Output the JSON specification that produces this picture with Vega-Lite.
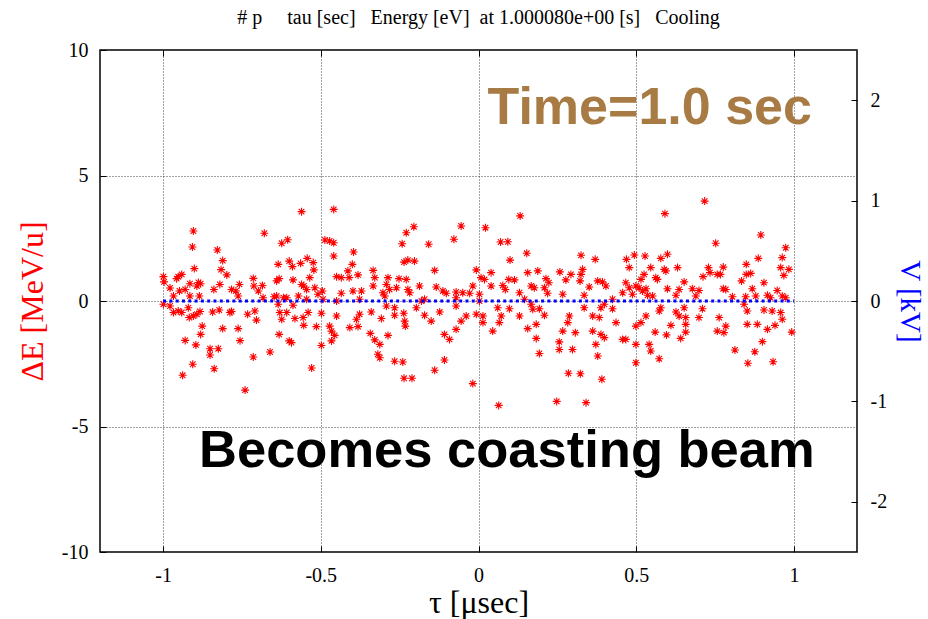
{
"$schema": "https://vega.github.io/schema/vega-lite/v6.json",
"width": 757, "height": 502,
"autosize": {"type": "none"},
"padding": {"left": 100, "top": 50, "right": 71, "bottom": 67},
"background": "white",
"view": {"stroke": "black", "strokeWidth": 1.5},
"title": {"text": "#\u00a0p\u00a0\u00a0\u00a0\u00a0\u00a0tau [sec]\u00a0\u00a0\u00a0Energy [eV]\u00a0\u00a0at 1.000080e+00 [s]\u00a0\u00a0\u00a0Cooling", "font": "Liberation Serif", "fontSize": 20, "fontWeight": "normal", "color": "black", "offset": 12, "anchor": "middle", "frame": "group"},
"config": {"axis": {"labelFont": "Liberation Serif", "labelFontSize": 20, "labelColor": "black", "titleFont": "Liberation Serif", "titleFontSize": 32, "titleFontWeight": "normal", "domain": false, "tickColor": "black", "tickSize": -6, "tickWidth": 1, "gridColor": "#444", "gridDash": [1, 2], "gridOpacity": 1, "gridWidth": 1}},
"resolve": {"scale": {"y": "independent"}, "axis": {"x": "independent"}},
"layer": [
{"layer": [
{"data": {"values": [
{"tau":-0.561,"dE":3.56},{"tau":-0.904,"dE":2.79},{"tau":-0.679,"dE":2.70},{"tau":-0.907,"dE":2.15},{"tau":-0.624,"dE":2.30},{"tau":-0.605,"dE":2.44},{"tau":-0.828,"dE":2.03},{"tau":-0.811,"dE":1.61},{"tau":-0.901,"dE":1.29},{"tau":-0.816,"dE":1.25},{"tau":-0.798,"dE":1.04},{"tau":-0.635,"dE":1.46},{"tau":-0.600,"dE":1.59},{"tau":-0.590,"dE":1.37},{"tau":-0.564,"dE":1.50},{"tau":-0.543,"dE":1.70},{"tau":-0.524,"dE":1.53},{"tau":-0.522,"dE":1.24},{"tau":-0.999,"dE":0.97},{"tau":-0.997,"dE":0.76},{"tau":-0.952,"dE":0.97},{"tau":-0.941,"dE":1.06},{"tau":-0.957,"dE":0.89},{"tau":-0.978,"dE":0.52},{"tau":-0.967,"dE":0.20},{"tau":-0.948,"dE":0.40},{"tau":-0.930,"dE":0.46},{"tau":-0.915,"dE":0.69},{"tau":-0.888,"dE":0.74},{"tau":-0.881,"dE":0.69},{"tau":-0.893,"dE":0.60},{"tau":-0.885,"dE":0.20},{"tau":-0.839,"dE":0.46},{"tau":-0.820,"dE":0.66},{"tau":-0.783,"dE":0.46},{"tau":-0.769,"dE":0.40},{"tau":-0.758,"dE":0.66},{"tau":-0.762,"dE":0.20},{"tau":-0.714,"dE":0.90},{"tau":-0.712,"dE":0.60},{"tau":-0.685,"dE":0.62},{"tau":-0.698,"dE":0.40},{"tau":-0.683,"dE":0.13},{"tau":-0.640,"dE":0.80},{"tau":-0.632,"dE":0.89},{"tau":-0.588,"dE":0.84},{"tau":-0.561,"dE":0.66},{"tau":-0.554,"dE":0.60},{"tau":-0.545,"dE":0.46},{"tau":-0.535,"dE":0.93},{"tau":-0.519,"dE":0.53},{"tau":-0.509,"dE":0.27},{"tau":-0.999,"dE":-0.13},{"tau":-0.967,"dE":-0.46},{"tau":-0.952,"dE":-0.40},{"tau":-0.941,"dE":-0.46},{"tau":-0.920,"dE":-0.27},{"tau":-0.883,"dE":-0.42},{"tau":-0.917,"dE":-0.66},{"tau":-0.904,"dE":-0.60},{"tau":-0.893,"dE":-0.53},{"tau":-0.843,"dE":-0.44},{"tau":-0.822,"dE":-0.36},{"tau":-0.788,"dE":-0.46},{"tau":-0.783,"dE":-0.42},{"tau":-0.732,"dE":-0.53},{"tau":-0.709,"dE":-0.40},{"tau":-0.704,"dE":-0.76},{"tau":-0.635,"dE":-0.13},{"tau":-0.630,"dE":-0.46},{"tau":-0.624,"dE":-0.73},{"tau":-0.608,"dE":-0.46},{"tau":-0.588,"dE":-0.17},{"tau":-0.582,"dE":-0.70},{"tau":-0.556,"dE":-0.66},{"tau":-0.540,"dE":-0.46},{"tau":-0.554,"dE":-0.97},{"tau":-0.514,"dE":-1.02},{"tau":-0.876,"dE":-1.00},{"tau":-0.881,"dE":-1.33},{"tau":-0.811,"dE":-1.10},{"tau":-0.762,"dE":-1.10},{"tau":-0.756,"dE":-1.58},{"tau":-0.930,"dE":-1.57},{"tau":-0.896,"dE":-1.75},{"tau":-0.851,"dE":-1.90},{"tau":-0.825,"dE":-1.90},{"tau":-0.851,"dE":-2.15},{"tau":-0.906,"dE":-2.52},{"tau":-0.938,"dE":-2.96},{"tau":-0.838,"dE":-2.70},{"tau":-0.714,"dE":-2.23},{"tau":-0.661,"dE":-2.03},{"tau":-0.632,"dE":-1.33},{"tau":-0.600,"dE":-1.59},{"tau":-0.593,"dE":-1.66},{"tau":-0.529,"dE":-2.67},{"tau":-0.740,"dE":-3.55},{"tau":-0.640,"dE":0.20},{"tau":-0.618,"dE":0.13},{"tau":-0.608,"dE":0.13},{"tau":-0.648,"dE":0.17},{"tau":-0.571,"dE":0.20},{"tau":-0.545,"dE":0.07},{"tau":-0.978,"dE":-0.20},{"tau":-0.915,"dE":0.20},
{"tau":-0.459,"dE":3.65},{"tau":-0.487,"dE":2.43},{"tau":-0.472,"dE":2.39},{"tau":-0.459,"dE":2.32},{"tau":-0.459,"dE":1.79},{"tau":-0.396,"dE":1.95},{"tau":-0.400,"dE":1.46},{"tau":-0.229,"dE":2.72},{"tau":-0.205,"dE":2.96},{"tau":-0.242,"dE":2.28},{"tau":-0.158,"dE":2.26},{"tau":-0.055,"dE":2.99},{"tau":-0.078,"dE":2.46},{"tau":-0.236,"dE":1.55},{"tau":-0.224,"dE":1.63},{"tau":-0.203,"dE":1.59},{"tau":-0.139,"dE":1.22},{"tau":-0.007,"dE":1.24},{"tau":-0.334,"dE":1.22},{"tau":-0.329,"dE":0.93},{"tau":-0.287,"dE":0.93},{"tau":-0.252,"dE":0.89},{"tau":-0.229,"dE":0.86},{"tau":-0.450,"dE":0.97},{"tau":-0.435,"dE":0.93},{"tau":-0.410,"dE":0.93},{"tau":-0.382,"dE":1.04},{"tau":-0.414,"dE":1.20},{"tau":-0.334,"dE":0.60},{"tau":-0.292,"dE":0.66},{"tau":-0.282,"dE":0.46},{"tau":-0.260,"dE":0.53},{"tau":-0.224,"dE":0.46},{"tau":-0.187,"dE":0.60},{"tau":-0.134,"dE":0.56},{"tau":-0.113,"dE":0.40},{"tau":-0.102,"dE":0.31},{"tau":-0.071,"dE":0.36},{"tau":-0.050,"dE":0.33},{"tau":-0.028,"dE":0.31},{"tau":-0.018,"dE":0.60},{"tau":-0.495,"dE":0.40},{"tau":-0.435,"dE":0.31},{"tau":-0.398,"dE":0.40},{"tau":-0.371,"dE":0.40},{"tau":-0.303,"dE":0.33},{"tau":-0.297,"dE":0.20},{"tau":-0.218,"dE":0.33},{"tau":-0.171,"dE":0.07},{"tau":-0.493,"dE":0.07},{"tau":-0.450,"dE":0.0},{"tau":-0.377,"dE":-0.53},{"tau":-0.387,"dE":-0.73},{"tau":-0.450,"dE":-0.60},{"tau":-0.498,"dE":-0.49},{"tau":-0.340,"dE":-0.44},{"tau":-0.308,"dE":-0.70},{"tau":-0.292,"dE":-0.20},{"tau":-0.266,"dE":-0.27},{"tau":-0.266,"dE":-0.57},{"tau":-0.237,"dE":-0.49},{"tau":-0.234,"dE":-0.80},{"tau":-0.232,"dE":-1.00},{"tau":-0.197,"dE":-0.27},{"tau":-0.171,"dE":-0.57},{"tau":-0.150,"dE":-0.80},{"tau":-0.123,"dE":-0.44},{"tau":-0.071,"dE":-0.20},{"tau":-0.055,"dE":-0.80},{"tau":-0.039,"dE":-0.60},{"tau":-0.007,"dE":-0.53},{"tau":-0.472,"dE":-1.00},{"tau":-0.466,"dE":-1.20},{"tau":-0.456,"dE":-1.37},{"tau":-0.466,"dE":-1.59},{"tau":-0.408,"dE":-1.06},{"tau":-0.382,"dE":-1.02},{"tau":-0.343,"dE":-1.29},{"tau":-0.329,"dE":-1.55},{"tau":-0.313,"dE":-1.73},{"tau":-0.287,"dE":-1.37},{"tau":-0.319,"dE":-2.12},{"tau":-0.313,"dE":-2.26},{"tau":-0.266,"dE":-2.40},{"tau":-0.240,"dE":-2.43},{"tau":-0.108,"dE":-1.33},{"tau":-0.092,"dE":-1.53},{"tau":-0.071,"dE":-1.13},{"tau":-0.108,"dE":-2.35},{"tau":-0.139,"dE":-2.76},{"tau":-0.236,"dE":-3.08},{"tau":-0.211,"dE":-3.08},{"tau":-0.018,"dE":-3.29},{"tau":-0.498,"dE":-1.77},{"tau":-0.377,"dE":0.07},{"tau":-0.181,"dE":0.0},{"tau":-0.071,"dE":0.13},
{"tau":0.132,"dE":3.39},{"tau":0.022,"dE":2.92},{"tau":0.070,"dE":2.35},{"tau":0.093,"dE":2.36},{"tau":0.100,"dE":1.63},{"tau":0.153,"dE":1.90},{"tau":0.325,"dE":1.82},{"tau":0.370,"dE":1.66},{"tau":0.469,"dE":1.66},{"tau":0.494,"dE":1.83},{"tau":0.478,"dE":1.33},{"tau":0.008,"dE":0.93},{"tau":0.040,"dE":1.13},{"tau":0.019,"dE":0.86},{"tau":0.156,"dE":1.13},{"tau":0.188,"dE":1.20},{"tau":0.214,"dE":0.89},{"tau":0.223,"dE":0.73},{"tau":0.258,"dE":1.16},{"tau":0.277,"dE":0.84},{"tau":0.293,"dE":1.06},{"tau":0.325,"dE":1.06},{"tau":0.330,"dE":1.26},{"tau":0.322,"dE":0.80},{"tau":0.040,"dE":0.60},{"tau":0.077,"dE":0.62},{"tau":0.085,"dE":0.46},{"tau":0.096,"dE":0.86},{"tau":0.114,"dE":0.84},{"tau":0.130,"dE":0.33},{"tau":0.167,"dE":0.60},{"tau":0.177,"dE":0.53},{"tau":0.209,"dE":0.53},{"tau":0.219,"dE":0.31},{"tau":0.267,"dE":0.27},{"tau":0.335,"dE":0.23},{"tau":0.351,"dE":0.56},{"tau":0.378,"dE":0.80},{"tau":0.393,"dE":0.76},{"tau":0.404,"dE":0.60},{"tau":0.467,"dE":0.73},{"tau":0.478,"dE":0.53},{"tau":0.499,"dE":0.60},{"tau":0.457,"dE":0.33},{"tau":0.488,"dE":0.27},{"tau":0.003,"dE":0.27},{"tau":0.003,"dE":0.0},{"tau":0.061,"dE":-0.27},{"tau":0.098,"dE":-0.31},{"tau":0.130,"dE":-0.60},{"tau":0.167,"dE":-0.13},{"tau":0.172,"dE":-0.33},{"tau":0.193,"dE":-0.31},{"tau":0.209,"dE":-0.57},{"tau":0.183,"dE":-0.93},{"tau":0.156,"dE":-1.10},{"tau":0.183,"dE":-1.49},{"tau":0.193,"dE":-2.09},{"tau":0.014,"dE":-0.60},{"tau":0.014,"dE":-0.86},{"tau":0.045,"dE":-1.20},{"tau":0.072,"dE":-0.60},{"tau":0.066,"dE":-0.86},{"tau":0.288,"dE":-0.60},{"tau":0.283,"dE":-0.86},{"tau":0.267,"dE":-1.20},{"tau":0.307,"dE":-1.26},{"tau":0.256,"dE":-1.63},{"tau":0.256,"dE":-1.93},{"tau":0.298,"dE":-1.93},{"tau":0.335,"dE":-0.27},{"tau":0.362,"dE":-0.60},{"tau":0.383,"dE":-0.66},{"tau":0.388,"dE":-0.27},{"tau":0.399,"dE":-0.13},{"tau":0.425,"dE":-0.31},{"tau":0.362,"dE":-1.20},{"tau":0.388,"dE":-1.33},{"tau":0.399,"dE":-1.46},{"tau":0.372,"dE":-1.73},{"tau":0.378,"dE":-2.19},{"tau":0.436,"dE":-0.86},{"tau":0.457,"dE":-1.53},{"tau":0.467,"dE":-1.53},{"tau":0.499,"dE":-1.00},{"tau":0.499,"dE":-1.73},{"tau":0.499,"dE":-2.46},{"tau":0.285,"dE":-2.88},{"tau":0.323,"dE":-2.90},{"tau":0.391,"dE":-3.12},{"tau":0.064,"dE":-4.16},{"tau":0.248,"dE":-4.00},{"tau":0.341,"dE":-4.05},{"tau":0.146,"dE":0.07},{"tau":0.425,"dE":0.07},
{"tau":0.717,"dE":3.98},{"tau":0.591,"dE":3.48},{"tau":0.895,"dE":2.63},{"tau":0.752,"dE":2.30},{"tau":0.974,"dE":2.12},{"tau":0.528,"dE":1.79},{"tau":0.578,"dE":1.70},{"tau":0.599,"dE":1.86},{"tau":0.589,"dE":1.26},{"tau":0.594,"dE":1.20},{"tau":0.631,"dE":1.33},{"tau":0.546,"dE":1.33},{"tau":0.562,"dE":0.93},{"tau":0.567,"dE":0.86},{"tau":0.515,"dE":0.86},{"tau":0.525,"dE":1.06},{"tau":0.652,"dE":0.76},{"tau":0.712,"dE":0.97},{"tau":0.729,"dE":1.33},{"tau":0.734,"dE":1.13},{"tau":0.757,"dE":1.06},{"tau":0.776,"dE":1.35},{"tau":0.767,"dE":1.06},{"tau":0.849,"dE":1.46},{"tau":0.887,"dE":1.70},{"tau":0.963,"dE":1.73},{"tau":0.958,"dE":1.33},{"tau":0.984,"dE":1.26},{"tau":0.968,"dE":1.02},{"tau":0.849,"dE":1.06},{"tau":0.863,"dE":1.10},{"tau":0.834,"dE":0.80},{"tau":0.905,"dE":0.73},{"tau":0.868,"dE":0.49},{"tau":0.531,"dE":0.49},{"tau":0.509,"dE":0.53},{"tau":0.520,"dE":0.40},{"tau":0.599,"dE":0.49},{"tau":0.636,"dE":0.46},{"tau":0.678,"dE":0.49},{"tau":0.699,"dE":0.42},{"tau":0.776,"dE":0.49},{"tau":0.784,"dE":0.46},{"tau":0.947,"dE":0.42},{"tau":0.847,"dE":0.17},{"tau":0.879,"dE":0.20},{"tau":0.916,"dE":0.23},{"tau":0.963,"dE":0.20},{"tau":0.974,"dE":0.13},{"tau":0.926,"dE":0.13},{"tau":0.536,"dE":0.23},{"tau":0.552,"dE":0.20},{"tau":0.626,"dE":0.23},{"tau":0.689,"dE":0.20},{"tau":0.805,"dE":0.17},{"tau":0.578,"dE":-0.27},{"tau":0.573,"dE":-0.40},{"tau":0.626,"dE":-0.44},{"tau":0.652,"dE":-0.27},{"tau":0.636,"dE":-0.60},{"tau":0.657,"dE":-0.66},{"tau":0.710,"dE":-0.31},{"tau":0.699,"dE":-0.66},{"tau":0.763,"dE":-0.66},{"tau":0.757,"dE":-1.20},{"tau":0.784,"dE":-1.00},{"tau":0.778,"dE":-1.26},{"tau":0.842,"dE":-0.13},{"tau":0.852,"dE":-0.40},{"tau":0.905,"dE":-0.36},{"tau":0.931,"dE":-0.40},{"tau":0.958,"dE":-0.46},{"tau":0.963,"dE":-0.73},{"tau":0.531,"dE":-0.60},{"tau":0.515,"dE":-0.86},{"tau":0.610,"dE":-0.97},{"tau":0.596,"dE":-1.35},{"tau":0.657,"dE":-0.93},{"tau":0.657,"dE":-1.24},{"tau":0.641,"dE":-1.49},{"tau":0.560,"dE":-1.24},{"tau":0.852,"dE":-0.93},{"tau":0.884,"dE":-0.93},{"tau":0.916,"dE":-1.13},{"tau":0.940,"dE":-0.97},{"tau":0.900,"dE":-1.62},{"tau":0.993,"dE":-1.24},{"tau":0.541,"dE":-1.73},{"tau":0.546,"dE":-1.99},{"tau":0.573,"dE":-2.30},{"tau":0.813,"dE":-1.95},{"tau":0.876,"dE":-2.02},{"tau":0.854,"dE":-2.48},{"tau":0.934,"dE":-2.42}
]},
"mark": {"type": "point", "shape": "M-1,0L1,0M0,-1L0,1M-0.7,-0.7L0.7,0.7M-0.7,0.7L0.7,-0.7", "filled": false, "color": "#ff0000", "strokeWidth": 1.1, "size": 64, "opacity": 1},
"encoding": {
"x": {"field": "tau", "type": "quantitative", "scale": {"domain": [-1.2, 1.2], "nice": false, "zero": false}, "axis": {"orient": "bottom", "values": [-1, -0.5, 0, 0.5, 1], "labelExpr": "datum.value + ''", "title": "τ [μsec]", "titleColor": "black", "labelPadding": 19, "titlePadding": 2, "grid": true}},
"y": {"field": "dE", "type": "quantitative", "scale": {"domain": [-10, 10], "nice": false, "zero": false}, "axis": {"orient": "left", "values": [-10, -5, 0, 5, 10], "labelExpr": "datum.value + ''", "title": "ΔE [MeV/u]", "titleColor": "#ff0000", "labelPadding": 18, "titlePadding": 12, "grid": true}}
}},
{"data": {"values": [{"tau": 1.057, "dE": 7.05, "label": "Time=1.0 sec"}]},
"mark": {"type": "text", "font": "Liberation Sans", "fontWeight": "bold", "fontSize": 52, "align": "right", "baseline": "alphabetic", "color": "#a87b45"},
"encoding": {"x": {"field": "tau", "type": "quantitative"}, "y": {"field": "dE", "type": "quantitative", "title": "ΔE [MeV/u]"}, "text": {"field": "label"}}},
{"data": {"values": [{"tau": -0.886, "dE": -6.61, "label": "Becomes coasting beam"}]},
"mark": {"type": "text", "font": "Liberation Sans", "fontWeight": "bold", "fontSize": 52.5, "align": "left", "baseline": "alphabetic", "color": "#000000"},
"encoding": {"x": {"field": "tau", "type": "quantitative"}, "y": {"field": "dE", "type": "quantitative", "title": "ΔE [MeV/u]"}, "text": {"field": "label"}}}
]},
{"data": {"values": [{"tau": -1, "V": 0}, {"tau": 1, "V": 0}]},
"mark": {"type": "line", "color": "#0000ff", "strokeWidth": 3, "strokeDash": [3, 3.3], "strokeCap": "butt"},
"encoding": {
"x": {"field": "tau", "type": "quantitative", "axis": {"orient": "top", "values": [-1, -0.5, 0, 0.5, 1], "labels": false, "grid": false, "title": null}},
"y": {"field": "V", "type": "quantitative", "scale": {"domain": [-2.5, 2.5], "nice": false, "zero": false}, "axis": {"orient": "right", "values": [-2, -1, 0, 1, 2], "labelExpr": "datum.value + ''", "title": "V [kV]", "titleColor": "#0000ff", "titleFontSize": 29, "labelPadding": 19, "titlePadding": 8, "grid": false}}
}}
]
}
